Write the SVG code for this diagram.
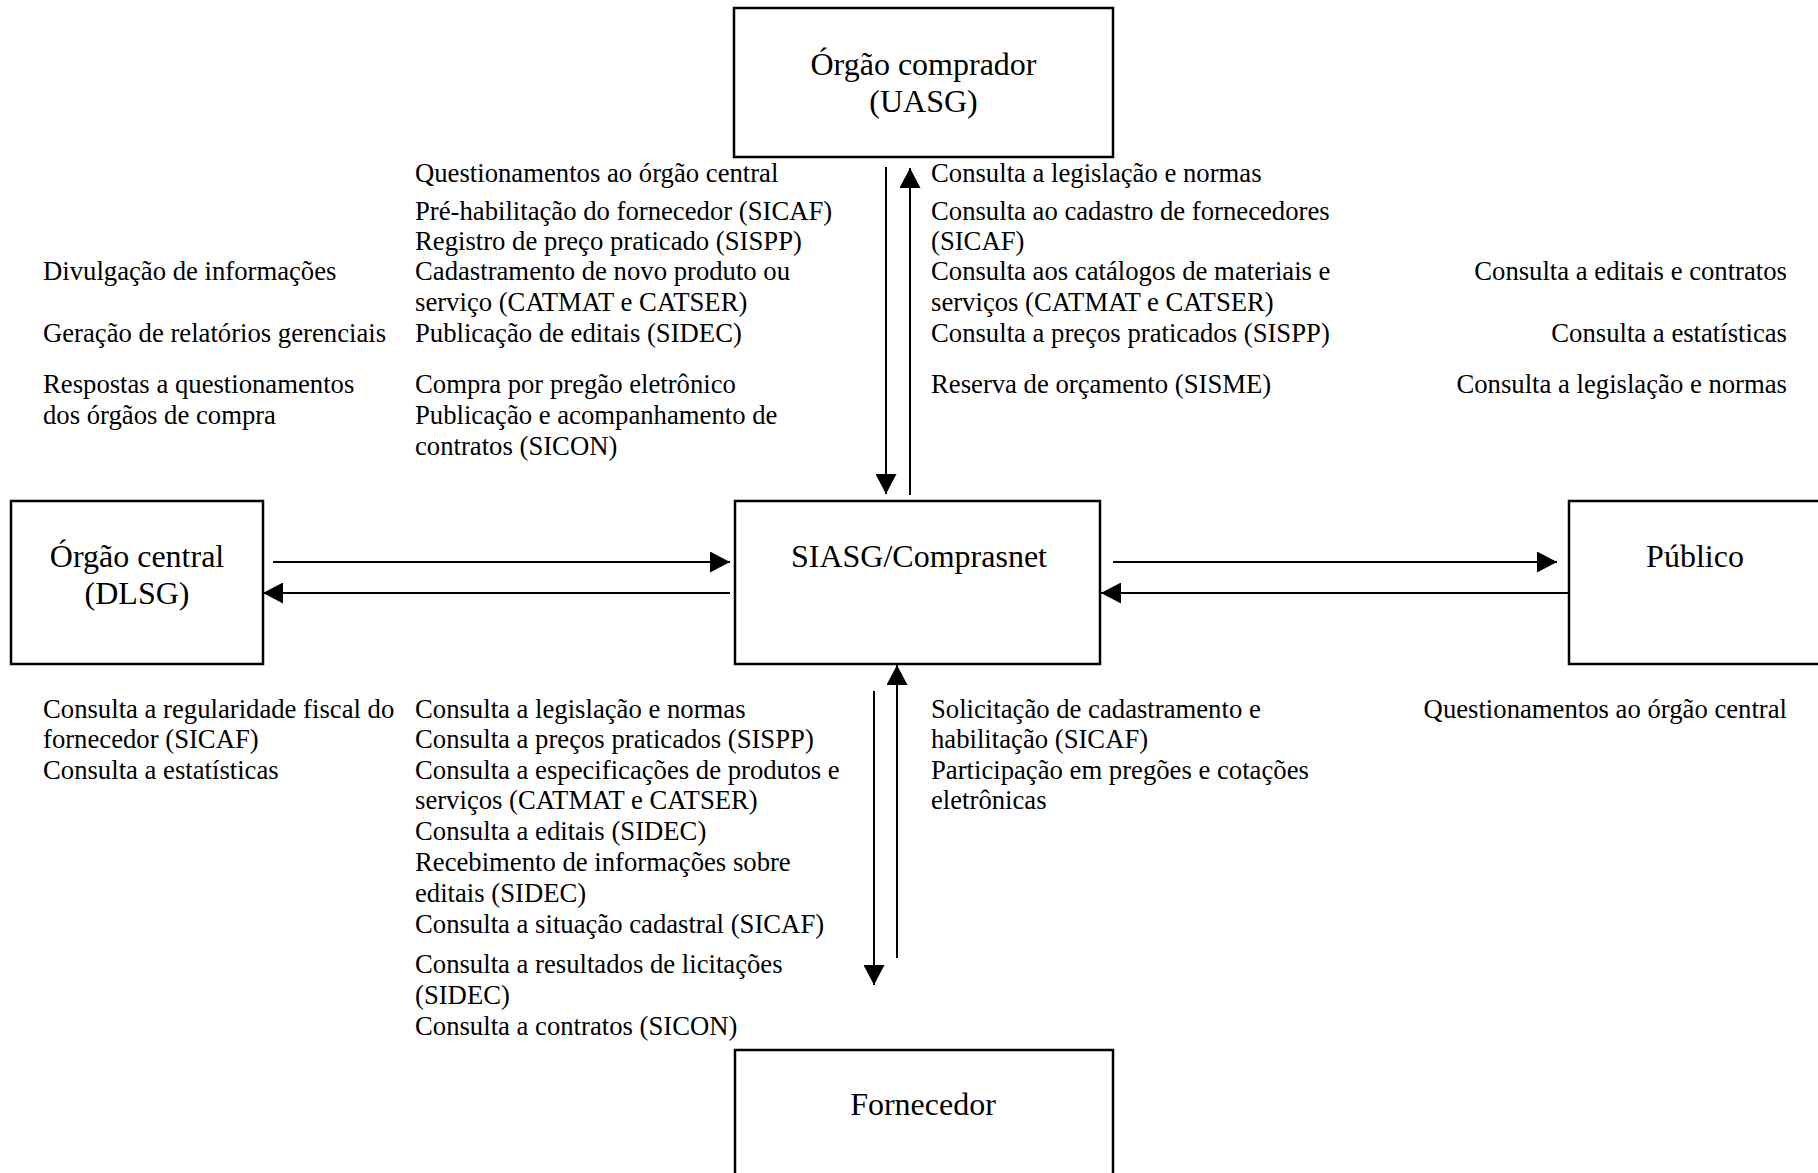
<svg xmlns="http://www.w3.org/2000/svg" width="1818" height="1173" viewBox="0 0 1818 1173">
<style>
.box{fill:#fff;stroke:#000;stroke-width:2.5}
.lbl{font-family:"Liberation Serif","Times New Roman",serif;font-size:32px;fill:#000;text-anchor:middle}
.t{font-family:"Liberation Serif","Times New Roman",serif;font-size:26.7px;fill:#000}
.r{text-anchor:end}
.c{stroke:#000;stroke-width:2;fill:none;marker-end:url(#ah)}
</style>
<defs>
<marker id="ah" markerUnits="userSpaceOnUse" markerWidth="21" markerHeight="21" refX="20" refY="10.5" orient="auto">
<path d="M0,0 L20,10.5 L0,21 z" fill="#000"/>
</marker>
</defs>
<rect width="1818" height="1173" fill="#fff"/>

<g id="node-uasg">
<rect class="box" x="734" y="8" width="379" height="149"/>
<text class="lbl" x="923.5" y="75">Órgão comprador</text>
<text class="lbl" x="923.5" y="112">(UASG)</text>
</g>
<g id="node-dlsg">
<rect class="box" x="11" y="501" width="252" height="163"/>
<text class="lbl" x="137" y="567">Órgão central</text>
<text class="lbl" x="137" y="604">(DLSG)</text>
</g>
<g id="node-siasg">
<rect class="box" x="735" y="501" width="365" height="163"/>
<text class="lbl" x="919" y="567">SIASG/Comprasnet</text>
</g>
<g id="node-publico">
<rect class="box" x="1569" y="501" width="260" height="163"/>
<text class="lbl" x="1695" y="567">Público</text>
</g>
<g id="node-fornecedor">
<rect class="box" x="735" y="1050" width="378" height="150"/>
<text class="lbl" x="923" y="1115">Fornecedor</text>
</g>

<g id="connectors">
<line class="c" x1="886" y1="167" x2="886" y2="494"/>
<line class="c" x1="910" y1="495" x2="910" y2="168"/>
<line class="c" x1="273" y1="562" x2="730" y2="562"/>
<line class="c" x1="730" y1="593" x2="263" y2="593"/>
<line class="c" x1="1113" y1="562" x2="1557" y2="562"/>
<line class="c" x1="1569" y1="593" x2="1101" y2="593"/>
<line class="c" x1="874" y1="691" x2="874" y2="985"/>
<line class="c" x1="897" y1="958" x2="897" y2="665"/>
</g>

<g id="labels-top-left">
<text class="t" x="43" y="280">Divulgação de informações</text>
<text class="t" x="43" y="342">Geração de relatórios gerenciais</text>
<text class="t" x="43" y="393">Respostas a questionamentos</text>
<text class="t" x="43" y="424">dos órgãos de compra</text>
</g>
<g id="labels-top-mid">
<text class="t" x="415" y="182">Questionamentos ao órgão central</text>
<text class="t" x="415" y="220">Pré-habilitação do fornecedor (SICAF)</text>
<text class="t" x="415" y="250">Registro de preço praticado (SISPP)</text>
<text class="t" x="415" y="280">Cadastramento de novo produto ou</text>
<text class="t" x="415" y="311">serviço (CATMAT e CATSER)</text>
<text class="t" x="415" y="342">Publicação de editais (SIDEC)</text>
<text class="t" x="415" y="393">Compra por pregão eletrônico</text>
<text class="t" x="415" y="424">Publicação e acompanhamento de</text>
<text class="t" x="415" y="455">contratos (SICON)</text>
</g>
<g id="labels-top-right">
<text class="t" x="931" y="182">Consulta a legislação e normas</text>
<text class="t" x="931" y="220">Consulta ao cadastro de fornecedores</text>
<text class="t" x="931" y="250">(SICAF)</text>
<text class="t" x="931" y="280">Consulta aos catálogos de materiais e</text>
<text class="t" x="931" y="311">serviços (CATMAT e CATSER)</text>
<text class="t" x="931" y="342">Consulta a preços praticados (SISPP)</text>
<text class="t" x="931" y="393">Reserva de orçamento (SISME)</text>
</g>
<g id="labels-top-far-right">
<text class="t r" x="1787" y="280">Consulta a editais e contratos</text>
<text class="t r" x="1787" y="342">Consulta a estatísticas</text>
<text class="t r" x="1787" y="393">Consulta a legislação e normas</text>
</g>
<g id="labels-bottom-left">
<text class="t" x="43" y="718">Consulta a regularidade fiscal do</text>
<text class="t" x="43" y="748">fornecedor (SICAF)</text>
<text class="t" x="43" y="779">Consulta a estatísticas</text>
</g>
<g id="labels-bottom-mid">
<text class="t" x="415" y="718">Consulta a legislação e normas</text>
<text class="t" x="415" y="748">Consulta a preços praticados (SISPP)</text>
<text class="t" x="415" y="779">Consulta a especificações de produtos e</text>
<text class="t" x="415" y="809">serviços (CATMAT e CATSER)</text>
<text class="t" x="415" y="840">Consulta a editais (SIDEC)</text>
<text class="t" x="415" y="871">Recebimento de informações sobre</text>
<text class="t" x="415" y="902">editais (SIDEC)</text>
<text class="t" x="415" y="933">Consulta a situação cadastral (SICAF)</text>
<text class="t" x="415" y="973">Consulta a resultados de licitações</text>
<text class="t" x="415" y="1004">(SIDEC)</text>
<text class="t" x="415" y="1035">Consulta a contratos (SICON)</text>
</g>
<g id="labels-bottom-right">
<text class="t" x="931" y="718">Solicitação de cadastramento e</text>
<text class="t" x="931" y="748">habilitação (SICAF)</text>
<text class="t" x="931" y="779">Participação em pregões e cotações</text>
<text class="t" x="931" y="809">eletrônicas</text>
</g>
<g id="labels-bottom-far-right">
<text class="t r" x="1787" y="718">Questionamentos ao órgão central</text>
</g>
</svg>
